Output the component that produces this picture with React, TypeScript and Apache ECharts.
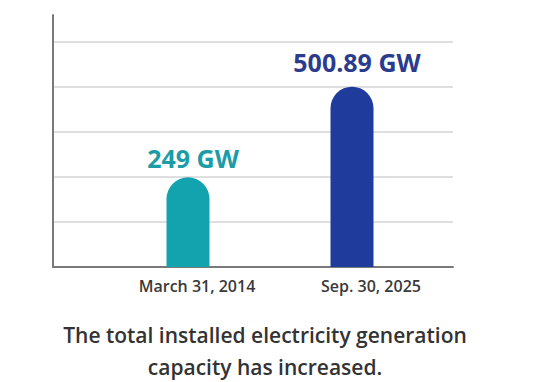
import React, { useEffect, useRef } from "react";
import * as echarts from "echarts";

const categories = ["March 31, 2014", "Sep. 30, 2025"];
const capacityGW = [249, 500.89];
const valueLabels = ["249 GW", "500.89 GW"];
const barColors = ["#12a3ae", "#1f3b9c"];
const labelColors = ["#1c9ca6", "#2b3c8c"];
const yMax = 700;
const yInterval = 125;
const caption = "The total installed electricity generation\ncapacity has increased.";

export default function App() {
  const ref = useRef<HTMLDivElement>(null);
  useEffect(() => {
    if (!ref.current) return;
    const chart = echarts.init(ref.current, null, { renderer: "svg" });
    const font = "'Open Sans', 'Noto Sans', sans-serif";
    const catStyle = (pad: number) => ({
      fontFamily: font,
      fontSize: 16,
      fontWeight: 600,
      color: "#3a3a3a",
      padding: [0, 0, 0, pad],
    });
    chart.setOption({
      animation: false,
      backgroundColor: "#ffffff",
      graphic: [
        {
          type: "text",
          x: 265,
          y: 319,
          style: {
            text: caption,
            textAlign: "center",
            textVerticalAlign: "top",
            font: `600 21px ${font}`,
            fill: "#333333",
            lineHeight: 32,
          },
        },
      ],
      grid: [
        { left: 53, right: 91, top: 15, bottom: 115 },
        { left: 106, right: 110, top: 15, bottom: 115 },
      ],
      xAxis: [
        {
          gridIndex: 0,
          type: "value",
          min: 0,
          max: 1,
          axisLine: { show: true, lineStyle: { color: "#7a7a7a", width: 2 } },
          axisTick: { show: false },
          axisLabel: { show: false },
          splitLine: { show: false },
        },
        {
          gridIndex: 1,
          type: "category",
          data: categories,
          axisLine: { show: false },
          axisTick: { show: false },
          axisLabel: {
            margin: 11,
            formatter: (v: string, i: number) => `{c${i}|${v}}`,
            rich: { c0: catStyle(18), c1: catStyle(38) },
          },
        },
      ],
      yAxis: [
        {
          gridIndex: 0,
          type: "value",
          min: 0,
          max: yMax,
          interval: yInterval,
          axisLine: { show: true, lineStyle: { color: "#7a7a7a", width: 2 } },
          axisTick: { show: false },
          axisLabel: { show: false },
          splitLine: {
            show: true,
            lineStyle: {
              color: ["transparent", "#d4d4d4", "#d4d4d4", "#d4d4d4", "#d4d4d4", "#d4d4d4", "transparent"],
              width: 1.5,
            },
          },
        },
        {
          gridIndex: 1,
          type: "value",
          min: 0,
          max: yMax,
          interval: yInterval,
          show: false,
          splitLine: { show: false },
        },
      ],
      series: [
        {
          type: "bar",
          xAxisIndex: 1,
          yAxisIndex: 1,
          barWidth: 43,
          data: capacityGW.map((v, i) => ({
            value: v,
            itemStyle: { color: barColors[i], borderRadius: [21.5, 21.5, 0, 0] },
            label: {
              show: true,
              position: "top",
              distance: i === 0 ? 7 : 12,
              offset: [5, 0],
              formatter: valueLabels[i],
              color: labelColors[i],
              fontFamily: font,
              fontSize: 25,
              fontWeight: 700,
            },
          })),
        },
      ],
    });
    return () => chart.dispose();
  }, []);
  return (
    <div
      ref={ref}
      style={{ position: "absolute", left: 0, top: 0, width: 544, height: 382 }}
    />
  );
}
